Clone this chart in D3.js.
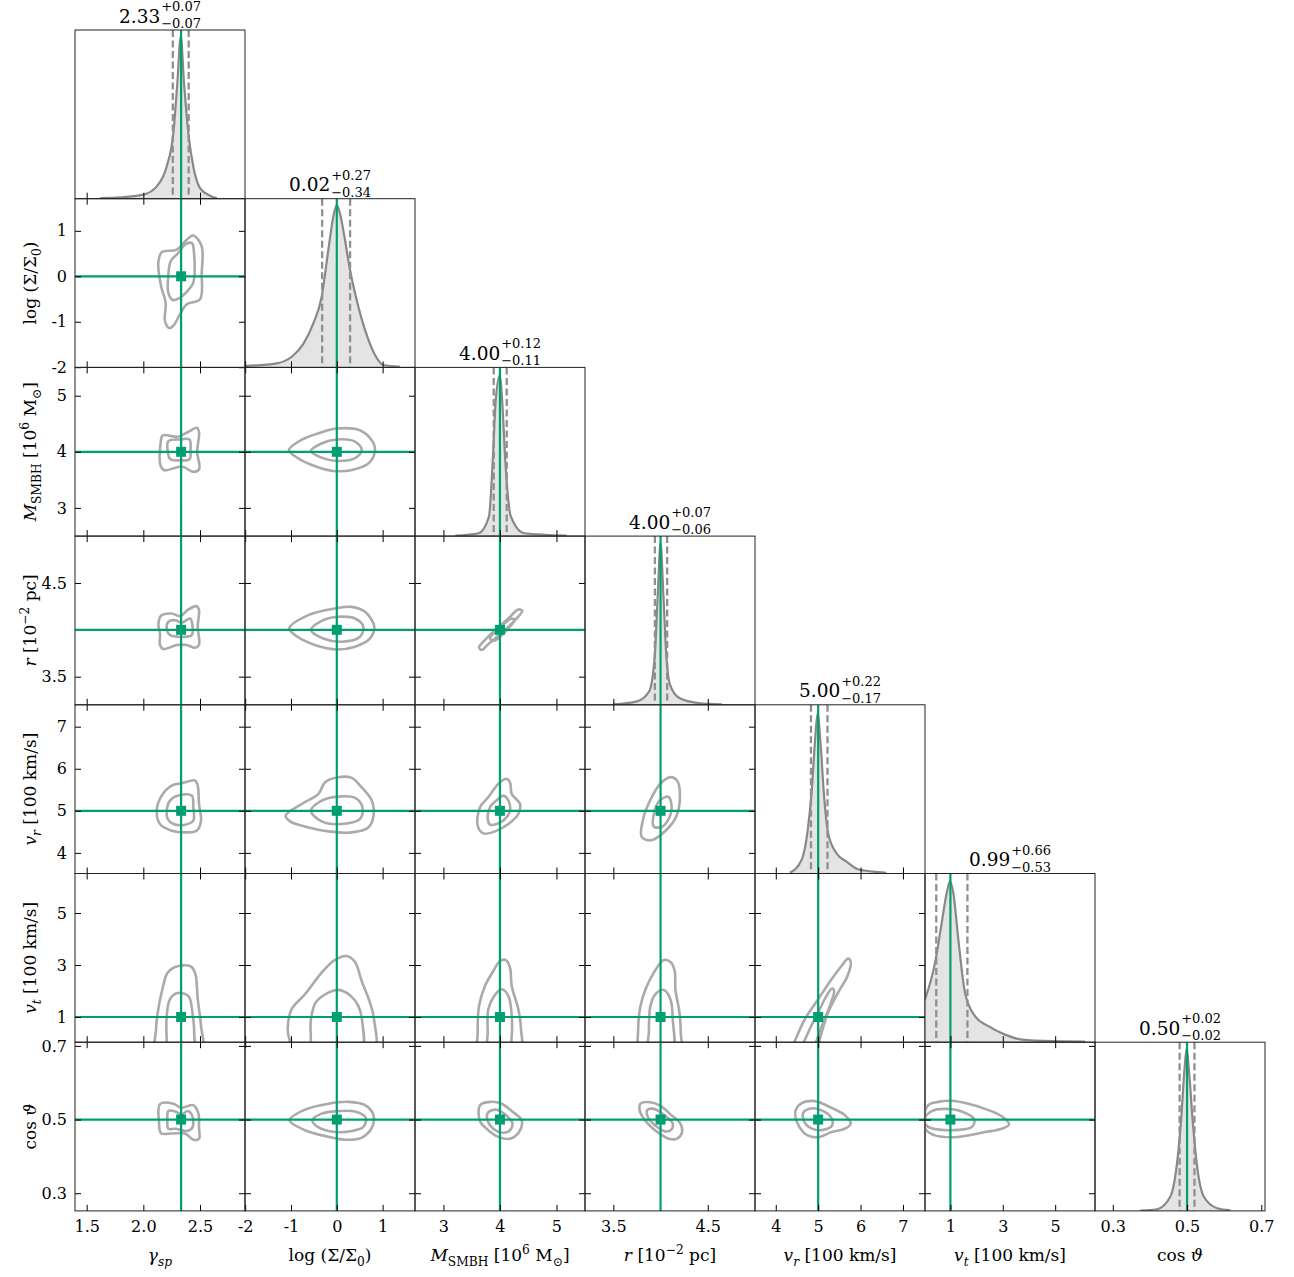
<!DOCTYPE html>
<html>
<head>
<meta charset="utf-8">
<script src="https://cdn.jsdelivr.net/npm/d3@7"></script>
<style>
  body { margin:0; padding:0; background:#fff; }
  text { font-family: "DejaVu Serif", serif; fill:#000; }
</style>
</head>
<body>
<svg id="chart" width="1294" height="1277"></svg>
<script>
// parameters, truth values and axis ranges
var names     = ["gamma", "logSigma", "M", "r", "vr", "vt", "cos"];
var truths    = [7/3, 0, 4, 4, 5, 1, 0.5];
var domains   = [[1.397, 2.897], [-2.004, 1.707], [2.497, 5.505], [3.2, 5.0], [3.51, 7.52], [0.03, 6.52], [0.252, 0.71]];
var tickVals  = [[1.5, 2.0, 2.5], [-2, -1, 0, 1], [3, 4, 5], [3.5, 4.5], [4, 5, 6, 7], [1, 3, 5], [0.3, 0.5, 0.7]];
var tickText  = [["1.5", "2.0", "2.5"], ["-2", "-1", "0", "1"], ["3", "4", "5"], ["3.5", "4.5"], ["4", "5", "6", "7"], ["1", "3", "5"], ["0.3", "0.5", "0.7"]];

// summary numbers shown above the diagonal
var medians   = [2.33, 0.02, 4.00, 4.00, 5.00, 0.99, 0.50];
var errPlus   = [0.07, 0.27, 0.12, 0.07, 0.22, 0.66, 0.02];
var errMinus  = [0.07, 0.34, 0.11, 0.06, 0.17, 0.53, 0.02];

// axis labels: [text, kind]  kind: "" roman, "i" italic, "sub", "isub", "sup"
var labels = [
  [["γ", "i"], ["sp", "isub"]],
  [["log (Σ/Σ", ""], ["0", "sub"], [")", ""]],
  [["M", "i"], ["SMBH", "sub"], [" [10", ""], ["6", "sup"], [" M", ""], ["⊙", "sub"], ["]", ""]],
  [["r", "i"], [" [10", ""], ["−2", "sup"], [" pc]", ""]],
  [["v", "i"], ["r", "isub"], [" [100 km/s]", ""]],
  [["v", "i"], ["t", "isub"], [" [100 km/s]", ""]],
  [["cos ", ""], ["ϑ", "i"]]
];

// 1D marginals (value, relative density)
var kdeGamma = [[1.62,0.004],[1.80,0.008],[2.00,0.024],[2.118,0.073],[2.206,0.191],[2.265,0.389],[2.300,0.686],[2.330,0.962],[2.359,0.686],[2.397,0.389],[2.441,0.191],[2.500,0.063],[2.588,0.018],[2.648,0.004]];
var kdeLogS  = [[-2.004,0.008],[-1.312,0.024],[-0.984,0.063],[-0.731,0.139],[-0.513,0.261],[-0.330,0.419],[-0.185,0.696],[-0.076,0.893],[0.0,0.963],[0.085,0.893],[0.179,0.755],[0.289,0.577],[0.434,0.400],[0.616,0.222],[0.834,0.074],[1.016,0.014],[1.380,0.004]];
var kdeM     = [[3.212,0.003],[3.622,0.017],[3.806,0.115],[3.873,0.451],[3.926,0.807],[4.0,0.955],[4.039,0.807],[4.094,0.451],[4.194,0.115],[4.431,0.017],[5.178,0.003]];
var kdeR     = [[3.5,0.002],[3.75,0.02],[3.88,0.08],[3.94,0.3],[3.97,0.65],[4.0,0.96],[4.03,0.65],[4.06,0.3],[4.1,0.12],[4.2,0.04],[4.4,0.01],[4.65,0.002]];
var kdeVr    = [[4.334,0.004],[4.609,0.081],[4.764,0.278],[4.844,0.476],[4.922,0.772],[4.985,0.950],[5.056,0.772],[5.134,0.476],[5.235,0.239],[5.432,0.120],[5.668,0.071],[5.942,0.025],[6.295,0.011],[6.61,0.004]];
var kdeVt    = [[0.03,0.253],[0.412,0.470],[0.667,0.707],[0.858,0.885],[0.984,0.954],[1.112,0.885],[1.303,0.608],[1.559,0.292],[1.941,0.154],[2.451,0.095],[3.088,0.045],[3.725,0.015],[4.872,0.006],[6.146,0.004]];
var kdeCos   = [[0.374,0.002],[0.419,0.01],[0.455,0.085],[0.474,0.302],[0.484,0.539],[0.493,0.836],[0.499,0.964],[0.505,0.836],[0.515,0.539],[0.525,0.302],[0.545,0.085],[0.581,0.016],[0.617,0.004]];
var kdes = [kdeGamma, kdeLogS, kdeM, kdeR, kdeVr, kdeVt, kdeCos];

// 2D contours, [outer, inner] in data units (x = column param, y = row param)
var ct_1_0 = [[[2.441,0.899],[2.515,0.659],[2.515,0.078],[2.500,-0.505],[2.383,-0.614],[2.324,-0.832],[2.265,-1.088],[2.229,-1.138],[2.191,-0.979],[2.197,-0.577],[2.156,-0.214],[2.132,0.296],[2.162,0.528],[2.294,0.587],[2.383,0.805]],
              [[2.427,0.733],[2.447,0.515],[2.441,-0.140],[2.397,-0.302],[2.309,-0.490],[2.259,-0.520],[2.220,-0.359],[2.220,0.004],[2.241,0.332],[2.309,0.515],[2.368,0.696]]];
var ct_2_0 = [[[2.170,4.291],[2.306,4.268],[2.390,4.349],[2.475,4.427],[2.492,4.339],[2.475,4.013],[2.492,3.689],[2.441,3.642],[2.340,3.737],[2.188,3.671],[2.153,3.748],[2.153,4.162]],
              [[2.221,4.190],[2.323,4.220],[2.407,4.220],[2.417,4.043],[2.407,3.866],[2.323,3.848],[2.238,3.866],[2.214,4.031]]];
var ct_2_1 = [[[-1.045,4.031],[-0.753,4.220],[-0.334,4.349],[0.0,4.415],[0.500,4.385],[0.751,4.220],[0.834,4.043],[0.710,3.808],[0.334,3.677],[-0.083,3.659],[-0.585,3.778],[-0.919,3.925]],
              [[-0.567,4.013],[-0.334,4.149],[0.0,4.220],[0.376,4.190],[0.544,4.043],[0.417,3.896],[0.0,3.836],[-0.334,3.896]]];
var ct_3_0 = [[[2.156,4.150],[2.250,4.174],[2.324,4.146],[2.397,4.217],[2.471,4.252],[2.491,4.210],[2.480,4.033],[2.491,3.838],[2.456,3.809],[2.383,3.838],[2.294,3.838],[2.177,3.795],[2.147,3.838],[2.147,3.962],[2.133,4.050]],
              [[2.221,4.086],[2.280,4.103],[2.338,4.075],[2.412,4.121],[2.433,4.050],[2.427,3.944],[2.368,3.926],[2.309,3.926],[2.235,3.944],[2.206,4.015]]];
var ct_3_1 = [[[-1.037,4.015],[-0.622,4.157],[-0.039,4.228],[0.325,4.245],[0.616,4.192],[0.819,4.033],[0.725,3.908],[0.398,3.820],[-0.039,3.791],[-0.476,3.837],[-0.913,3.944]],
              [[-0.563,3.997],[-0.330,4.096],[0.034,4.139],[0.398,4.121],[0.580,4.033],[0.507,3.926],[0.107,3.873],[-0.294,3.908]]];
var ct_3_2 = [[[3.630,3.813],[3.706,3.873],[3.913,3.997],[4.149,4.121],[4.326,4.217],[4.396,4.203],[4.267,4.103],[4.031,3.969],[3.795,3.848],[3.678,3.784]],
              [[3.825,3.908],[4.031,4.040],[4.208,4.121],[4.254,4.103],[4.107,3.990],[3.900,3.884]]];
var ct_4_0 = [[[2.118,5.004],[2.162,5.362],[2.250,5.601],[2.338,5.656],[2.456,5.720],[2.480,5.601],[2.491,5.162],[2.509,4.766],[2.471,4.527],[2.368,4.487],[2.250,4.527],[2.147,4.686]],
              [[2.206,5.004],[2.235,5.243],[2.309,5.362],[2.427,5.362],[2.441,5.084],[2.441,4.766],[2.368,4.670],[2.265,4.686],[2.215,4.806]]];
var ct_4_1 = [[[-1.115,4.885],[-0.766,5.162],[-0.402,5.401],[-0.256,5.680],[0.035,5.799],[0.326,5.783],[0.540,5.561],[0.763,5.243],[0.797,4.845],[0.688,4.606],[0.326,4.487],[-0.183,4.511],[-0.620,4.606],[-1.020,4.749]],
              [[-0.563,5.004],[-0.330,5.243],[0.035,5.338],[0.400,5.306],[0.559,5.084],[0.507,4.806],[0.107,4.686],[-0.330,4.749]]];
var ct_4_2 = [[[3.647,5.084],[3.794,5.322],[3.971,5.640],[4.120,5.760],[4.178,5.680],[4.208,5.401],[4.355,5.162],[4.325,4.924],[4.149,4.686],[3.913,4.511],[3.706,4.463],[3.607,4.646]],
              [[3.784,4.806],[3.824,5.084],[3.971,5.282],[4.060,5.362],[4.149,5.243],[4.178,5.004],[4.090,4.806],[3.943,4.686],[3.824,4.670]]];
var ct_4_3 = [[[4.000,5.650],[4.110,5.800],[4.180,5.700],[4.205,5.340],[4.170,4.880],[4.050,4.520],[3.900,4.300],[3.800,4.380],[3.810,4.750],[3.890,5.250]],
              [[3.925,4.880],[3.995,5.250],[4.085,5.330],[4.115,5.000],[4.030,4.640],[3.930,4.620]]];
var ct_5_0 = [[[2.118,-0.36],[2.112,0.533],[2.127,1.172],[2.168,2.067],[2.215,2.707],[2.280,2.924],[2.412,2.962],[2.456,2.707],[2.480,1.684],[2.509,0.661],[2.515,-0.36]],
              [[2.215,-0.36],[2.206,0.149],[2.206,1.044],[2.235,1.684],[2.294,1.914],[2.397,1.812],[2.433,1.172],[2.450,0.277],[2.441,-0.36]]];
var ct_5_1 = [[[-0.912,-0.36],[-1.036,0.149],[-1.072,0.533],[-0.985,1.300],[-0.694,1.876],[-0.330,2.707],[-0.040,3.193],[0.215,3.346],[0.397,3.116],[0.543,2.387],[0.724,1.556],[0.811,0.917],[0.797,-0.36]],
              [[-0.490,-0.36],[-0.570,0.405],[-0.563,0.917],[-0.461,1.556],[-0.185,1.940],[0.033,2.042],[0.288,1.837],[0.470,1.428],[0.557,0.789],[0.528,-0.36]]];
var ct_5_2 = [[[3.630,-0.36],[3.606,0.405],[3.630,1.428],[3.736,2.195],[3.883,2.771],[4.001,3.154],[4.102,3.193],[4.178,2.899],[4.208,2.195],[4.325,1.300],[4.373,0.533],[4.355,-0.36]],
              [[3.794,-0.36],[3.784,0.405],[3.794,1.300],[3.900,1.812],[4.031,2.067],[4.149,1.812],[4.208,1.044],[4.208,0.277],[4.149,-0.36]]];
var ct_5_3 = [[[3.788,-0.36],[3.763,0.533],[3.788,1.428],[3.841,2.067],[3.929,2.707],[4.034,3.193],[4.105,3.116],[4.150,2.771],[4.157,2.067],[4.200,1.172],[4.214,0.405],[4.203,-0.36]],
              [[3.876,-0.36],[3.876,0.405],[3.893,1.428],[3.946,1.876],[4.034,2.042],[4.105,1.684],[4.129,0.917],[4.122,-0.36]]];
var ct_5_4 = [[[4.334,-0.36],[4.435,0.021],[4.686,0.917],[5.000,1.684],[5.315,2.451],[5.550,2.962],[5.706,3.244],[5.769,3.116],[5.691,2.579],[5.470,1.940],[5.235,1.172],[5.039,0.149],[4.961,-0.36]],
              [[4.609,-0.36],[4.764,0.405],[5.0,1.172],[5.197,1.812],[5.329,2.093],[5.376,2.003],[5.275,1.428],[5.117,0.789],[4.961,0.085],[4.882,-0.36]]];
var ct_6_0 = [[[2.147,0.542],[2.265,0.543],[2.333,0.532],[2.441,0.539],[2.486,0.516],[2.491,0.480],[2.491,0.448],[2.441,0.445],[2.368,0.462],[2.250,0.462],[2.156,0.463],[2.138,0.493]],
              [[2.221,0.523],[2.280,0.522],[2.338,0.514],[2.391,0.523],[2.433,0.509],[2.433,0.478],[2.383,0.469],[2.280,0.475],[2.221,0.475],[2.212,0.498]]];
var ct_6_1 = [[[-1.034,0.498],[-0.692,0.527],[-0.183,0.543],[0.254,0.548],[0.618,0.539],[0.800,0.512],[0.765,0.478],[0.546,0.451],[0.212,0.445],[-0.183,0.453],[-0.692,0.471]],
              [[-0.534,0.498],[-0.330,0.516],[0.033,0.523],[0.398,0.522],[0.632,0.505],[0.580,0.480],[0.326,0.469],[-0.040,0.466],[-0.417,0.480]]];
var ct_6_2 = [[[3.647,0.539],[3.825,0.548],[4.031,0.543],[4.208,0.523],[4.385,0.498],[4.338,0.466],[4.178,0.448],[3.971,0.453],[3.794,0.471],[3.647,0.496]],
              [[3.784,0.518],[3.925,0.527],[4.090,0.514],[4.220,0.491],[4.178,0.471],[4.049,0.464],[3.883,0.475],[3.784,0.496]]];
var ct_6_3 = [[[3.788,0.543],[3.893,0.547],[3.999,0.537],[4.105,0.514],[4.210,0.489],[4.228,0.466],[4.175,0.448],[4.087,0.448],[3.981,0.463],[3.858,0.491],[3.781,0.523]],
              [[3.858,0.525],[3.929,0.529],[4.034,0.513],[4.129,0.489],[4.115,0.473],[4.045,0.468],[3.953,0.482],[3.869,0.505]]];
var ct_6_4 = [[[4.467,0.525],[4.624,0.545],[4.922,0.550],[5.275,0.534],[5.628,0.512],[5.769,0.489],[5.628,0.475],[5.315,0.466],[5.0,0.452],[4.750,0.457],[4.569,0.478],[4.467,0.505]],
              [[4.647,0.518],[4.828,0.530],[5.079,0.525],[5.298,0.507],[5.330,0.484],[5.117,0.472],[4.882,0.474],[4.686,0.491]]];
var ct_6_5 = [[[-0.034,0.498],[0.156,0.539],[0.538,0.548],[1.048,0.551],[1.685,0.543],[2.323,0.529],[2.960,0.509],[3.240,0.487],[2.960,0.475],[2.323,0.466],[1.685,0.457],[1.048,0.452],[0.412,0.457],[0.056,0.473]],
              [[-0.004,0.500],[0.286,0.523],[0.794,0.529],[1.431,0.522],[1.915,0.500],[1.814,0.480],[1.303,0.472],[0.668,0.472],[0.156,0.480]]];

var contours = {
  "1-0": ct_1_0,
  "2-0": ct_2_0, "2-1": ct_2_1,
  "3-0": ct_3_0, "3-1": ct_3_1, "3-2": ct_3_2,
  "4-0": ct_4_0, "4-1": ct_4_1, "4-2": ct_4_2, "4-3": ct_4_3,
  "5-0": ct_5_0, "5-1": ct_5_1, "5-2": ct_5_2, "5-3": ct_5_3, "5-4": ct_5_4,
  "6-0": ct_6_0, "6-1": ct_6_1, "6-2": ct_6_2, "6-3": ct_6_3, "6-4": ct_6_4, "6-5": ct_6_5
};

// ---- layout / style ----
var width = 1294, height = 1277;
var x0 = 75, y0 = 30, pw = 170, ph = 168.7;
var n = names.length;
var green = "#009e73";
var fontFam = "DejaVu Serif";

var svg = d3.select("#chart");
svg.append("rect").attr("width", width).attr("height", height).attr("fill", "#fff");
svg.append("defs").append("clipPath").attr("id", "clip")
  .append("rect").attr("width", pw).attr("height", ph);

function richText(sel, parts, size) {
  var cur = 0;
  parts.forEach(function(p) {
    var kind = p[1], off = 0, fs = size;
    if (kind === "sub" || kind === "isub") { off = size * 0.3; fs = size * 0.72; }
    if (kind === "sup") { off = -size * 0.42; fs = size * 0.72; }
    var t = sel.append("tspan").text(p[0]).attr("font-size", fs).attr("dy", off - cur);
    if (kind === "i" || kind === "isub") t.attr("font-style", "italic");
    cur = off;
  });
}

function styleAxis(a) {
  a.select(".domain").remove();
  a.attr("font-family", fontFam).attr("font-size", 16);
  a.selectAll(".tick line").attr("stroke", "#000").attr("stroke-width", 1);
}

var contourLine = d3.line().curve(d3.curveCatmullRomClosed.alpha(0.5));

for (var i = 0; i < n; i++) {
  for (var j = 0; j <= i; j++) {
    var g = svg.append("g").attr("transform", "translate(" + (x0 + j * pw) + "," + (y0 + i * ph) + ")");
    var x = d3.scaleLinear().domain(domains[j]).range([0, pw]);
    var inner = g.append("g").attr("clip-path", "url(#clip)");
    var lab = (function(k) { return function(d, idx) { return tickText[k][idx]; }; })(j);
    var none = function() { return ""; };

    if (i === j) {
      var yd = d3.scaleLinear().domain([0, 1]).range([ph, 0]);
      var area = d3.area().x(function(d) { return x(d[0]); }).y0(ph).y1(function(d) { return yd(d[1]); })
        .curve(d3.curveMonotoneX);
      var line = d3.line().x(function(d) { return x(d[0]); }).y(function(d) { return yd(d[1]); })
        .curve(d3.curveMonotoneX);
      inner.append("path").datum(kdes[i]).attr("d", area).attr("fill", "#e4e4e4");
      inner.append("path").datum(kdes[i]).attr("d", line).attr("fill", "none")
        .attr("stroke", "#888").attr("stroke-width", 2.2);
      [medians[i] - errMinus[i], medians[i] + errPlus[i]].forEach(function(q) {
        inner.append("line").attr("x1", x(q)).attr("x2", x(q)).attr("y1", 0).attr("y2", ph)
          .attr("stroke", "#8f8f8f").attr("stroke-width", 2.3).attr("stroke-dasharray", "7,3.5");
      });
      inner.append("line").attr("x1", x(truths[i])).attr("x2", x(truths[i])).attr("y1", 0).attr("y2", ph)
        .attr("stroke", green).attr("stroke-width", 2.2);

      g.append("g").attr("transform", "translate(0," + ph + ")")
        .call(d3.axisBottom(x).tickValues(tickVals[j]).tickSize(-6).tickPadding(10)
          .tickFormat(i === n - 1 ? lab : none))
        .call(styleAxis);

      // title: median with errors
      var tg = g.append("g");
      var mt = tg.append("text").attr("y", -7.5).attr("font-size", 18.5).text(medians[i].toFixed(2));
      var wm = mt.node().getComputedTextLength();
      var st = tg.append("text").attr("x", wm + 1).attr("y", -19).attr("font-size", 13).text("+" + errPlus[i].toFixed(2));
      var bt = tg.append("text").attr("x", wm + 1).attr("y", -2).attr("font-size", 13).text("−" + errMinus[i].toFixed(2));
      var wt = wm + 1 + Math.max(st.node().getComputedTextLength(), bt.node().getComputedTextLength());
      tg.attr("transform", "translate(" + (pw / 2 - wt / 2) + ",0)");
    } else {
      var y = d3.scaleLinear().domain(domains[i]).range([ph, 0]);
      var cs = contours[i + "-" + j];
      contourLine.x(function(d) { return x(d[0]); }).y(function(d) { return y(d[1]); });
      cs.forEach(function(c) {
        inner.append("path").attr("d", contourLine(c)).attr("fill", "none")
          .attr("stroke", "#aaa").attr("stroke-width", 2.6);
      });
      inner.append("line").attr("x1", x(truths[j])).attr("x2", x(truths[j])).attr("y1", 0).attr("y2", ph)
        .attr("stroke", green).attr("stroke-width", 2.2);
      inner.append("line").attr("x1", 0).attr("x2", pw).attr("y1", y(truths[i])).attr("y2", y(truths[i]))
        .attr("stroke", green).attr("stroke-width", 2.2);
      inner.append("rect").attr("x", x(truths[j]) - 5).attr("y", y(truths[i]) - 5)
        .attr("width", 10).attr("height", 10).attr("fill", green);

      var labY = (function(k) { return function(d, idx) { return tickText[k][idx]; }; })(i);
      g.append("g").attr("transform", "translate(0," + ph + ")")
        .call(d3.axisBottom(x).tickValues(tickVals[j]).tickSize(-6).tickPadding(10)
          .tickFormat(i === n - 1 ? lab : none))
        .call(styleAxis);
      g.append("g")
        .call(d3.axisTop(x).tickValues(tickVals[j]).tickSize(-6).tickFormat(none))
        .call(styleAxis);
      g.append("g")
        .call(d3.axisLeft(y).tickValues(tickVals[i]).tickSize(-6).tickPadding(8)
          .tickFormat(j === 0 ? labY : none))
        .call(styleAxis);
      g.append("g").attr("transform", "translate(" + pw + ",0)")
        .call(d3.axisRight(y).tickValues(tickVals[i]).tickSize(-6).tickFormat(none))
        .call(styleAxis);
    }
    g.append("rect").attr("width", pw).attr("height", ph).attr("fill", "none")
      .attr("stroke", "#222").attr("stroke-width", 1);
  }
}

// bottom axis labels
for (var k = 0; k < n; k++) {
  var t = svg.append("text").attr("x", x0 + k * pw + pw / 2).attr("y", 1261)
    .attr("text-anchor", "middle").attr("font-size", 17);
  richText(t, labels[k], 17);
}
// left axis labels
for (var r = 1; r < n; r++) {
  var cy = y0 + r * ph + ph / 2;
  var tl = svg.append("text").attr("transform", "translate(36," + cy + ") rotate(-90)")
    .attr("text-anchor", "middle").attr("font-size", 17);
  richText(tl, labels[r], 17);
}
</script>
</body>
</html>
